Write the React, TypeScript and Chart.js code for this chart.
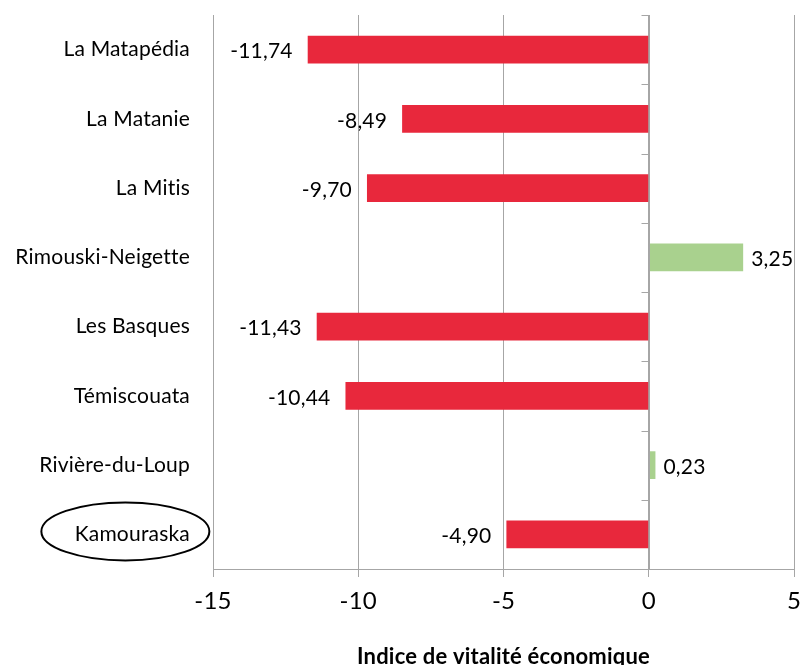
import React, { useEffect, useRef } from 'react';
import { Chart, registerables } from 'chart.js';

Chart.register(...registerables);

const categories = [
  'La Matapédia',
  'La Matanie',
  'La Mitis',
  'Rimouski-Neigette',
  'Les Basques',
  'Témiscouata',
  'Rivière-du-Loup',
  'Kamouraska',
];
const values = [-11.74, -8.49, -9.7, 3.25, -11.43, -10.44, 0.23, -4.9];
const xMin = -15;
const xMax = 5;
const xStep = 5;
const highlighted = 'Kamouraska';
const axisTitle = 'Indice de vitalité économique';

const NEG = '#E8283C';
const POS = '#A9D18E';
const GRID = '#A6A6A6';
const FONT = 'Lato, "Open Sans", sans-serif';
const LABEL_SIZE = 21;
const Y_PAD = 23;

const fmt = (v: number) => v.toFixed(2).replace('.', ',');

const spacingPlugin = {
  id: 'noLigatures',
  beforeDraw(chart: any) {
    try {
      (chart.ctx as any).letterSpacing = '0.2px';
    } catch (e) {}
  },
  beforeLayout(chart: any) {
    try {
      (chart.ctx as any).letterSpacing = '0.2px';
    } catch (e) {}
  },
};

const zeroAxisPlugin = {
  id: 'zeroAxis',
  afterDatasetsDraw(chart: any) {
    const { ctx, chartArea, scales } = chart;
    const x = scales.x;
    const y = scales.y;
    const px = Math.round(x.getPixelForValue(0)) + 0.5;
    ctx.save();
    ctx.strokeStyle = GRID;
    ctx.lineWidth = 1;
    ctx.beginPath();
    ctx.moveTo(px, chartArea.top);
    ctx.lineTo(px, chartArea.bottom);
    for (let i = 0; i <= categories.length; i++) {
      const yy = Math.round(y.getPixelForValue(i - 0.5)) + 0.5;
      ctx.moveTo(px - 8, yy);
      ctx.lineTo(px, yy);
    }
    ctx.stroke();
    ctx.restore();
  },
};

const dataLabelPlugin = {
  id: 'dataLabels',
  afterDatasetsDraw(chart: any) {
    const { ctx } = chart;
    const meta = chart.getDatasetMeta(0);
    ctx.save();
    ctx.font = `${LABEL_SIZE}px ${FONT}`;
    ctx.fillStyle = '#000';
    ctx.textBaseline = 'middle';
    meta.data.forEach((el: any, i: number) => {
      const v = values[i];
      if (v < 0) {
        ctx.textAlign = 'right';
        ctx.fillText(fmt(v), el.x - 15, el.y + 2);
      } else {
        ctx.textAlign = 'left';
        ctx.fillText(fmt(v), el.x + 8, el.y + 2);
      }
    });
    ctx.restore();
  },
};

const ellipsePlugin = {
  id: 'highlightEllipse',
  afterDraw(chart: any) {
    const { ctx, chartArea, scales } = chart;
    const idx = categories.indexOf(highlighted);
    if (idx < 0) return;
    ctx.save();
    ctx.font = `${LABEL_SIZE}px ${FONT}`;
    const w = ctx.measureText(highlighted).width;
    const right = chartArea.left - Y_PAD;
    const cx = right - w / 2 - 7;
    const cy = scales.y.getPixelForValue(idx) - 3;
    ctx.strokeStyle = '#000';
    ctx.lineWidth = 2;
    ctx.beginPath();
    ctx.ellipse(cx, cy, 84, 29, 0, 0, Math.PI * 2);
    ctx.stroke();
    ctx.restore();
  },
};

export default function App() {
  const ref = useRef<HTMLCanvasElement | null>(null);

  useEffect(() => {
    if (!ref.current) return;
    const chart = new Chart(ref.current, {
      type: 'bar',
      data: {
        labels: categories,
        datasets: [
          {
            data: values,
            backgroundColor: values.map((v) => (v < 0 ? NEG : POS)),
            borderWidth: 0,
            barPercentage: 0.4,
            categoryPercentage: 1,
          },
        ],
      },
      options: {
        indexAxis: 'y',
        responsive: false,
        animation: false,
        layout: { padding: { left: 0, right: 7, top: 15, bottom: 0 } },
        plugins: {
          legend: { display: false },
          tooltip: { enabled: false },
        },
        scales: {
          x: {
            type: 'linear',
            min: xMin,
            max: xMax,
            ticks: {
              stepSize: xStep,
              color: '#000',
              font: { family: FONT, size: 24 },
              padding: 10,
            },
            grid: {
              color: GRID,
              tickLength: 8,
              drawOnChartArea: true,
            },
            border: { display: true, color: GRID },
            title: {
              display: true,
              text: axisTitle,
              color: '#000',
              font: { family: FONT, size: 22, weight: 'bold' },
              padding: { top: 0, bottom: -5 },
            },
            afterFit(scale: any) {
              scale.height = 96;
              scale.paddingLeft = 0;
              scale.paddingRight = 0;
            },
          },
          y: {
            type: 'category',
            grid: { display: false, drawTicks: false },
            border: { display: false },
            ticks: {
              color: '#000',
              font: { family: FONT, size: LABEL_SIZE },
              padding: Y_PAD,
            },
            afterFit(scale: any) {
              scale.width = 213;
              scale.paddingTop = 0;
              scale.paddingBottom = 0;
            },
          },
        },
      } as any,
      plugins: [spacingPlugin, zeroAxisPlugin, dataLabelPlugin, ellipsePlugin],
    });
    return () => chart.destroy();
  }, []);

  return (
    <div style={{ position: 'absolute', left: 0, top: 0, width: 801, height: 665, background: '#fff' }}>
      <canvas ref={ref} width={801} height={665} />
    </div>
  );
}
